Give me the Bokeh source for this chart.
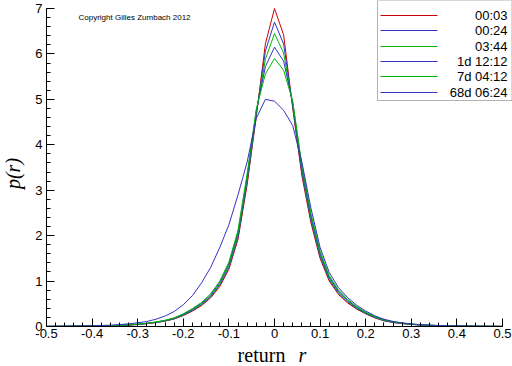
from math import pi
import numpy as np
from bokeh.plotting import figure
from bokeh.models import Range1d, FixedTicker, Label, BoxAnnotation
from bokeh.embed import file_html
from bokeh.resources import INLINE

# ---------------- data ----------------
r = [-0.50, -0.48, -0.46, -0.44, -0.42, -0.40, -0.38, -0.36, -0.34, -0.32,
     -0.30, -0.28, -0.26, -0.24, -0.22, -0.20, -0.18, -0.16, -0.14, -0.12,
     -0.10, -0.08, -0.06, -0.04, -0.02, 0.00, 0.02, 0.04, 0.06, 0.08,
     0.10, 0.12, 0.14, 0.16, 0.18, 0.20, 0.22, 0.24, 0.26, 0.28,
     0.30, 0.32, 0.34, 0.36, 0.38, 0.40, 0.42, 0.44, 0.46, 0.48, 0.50]

p_00_03 = [0.002, 0.003, 0.004, 0.005, 0.007, 0.009, 0.012, 0.016, 0.022, 0.031,
           0.044, 0.062, 0.086, 0.118, 0.165, 0.24, 0.34, 0.46, 0.63, 0.88,
           1.26, 1.92, 3.12, 4.62, 6.22, 7.00, 6.42, 4.80, 3.32, 2.28,
           1.50, 1.00, 0.71, 0.52, 0.385, 0.278, 0.19, 0.125, 0.088, 0.063,
           0.045, 0.032, 0.023, 0.017, 0.012, 0.009, 0.007, 0.005, 0.004, 0.003, 0.002]

p_00_24 = [0.002, 0.003, 0.004, 0.005, 0.007, 0.010, 0.013, 0.017, 0.023, 0.032,
           0.046, 0.064, 0.089, 0.122, 0.171, 0.25, 0.35, 0.475, 0.65, 0.91,
           1.30, 1.97, 3.18, 4.66, 6.06, 6.70, 6.22, 4.84, 3.38, 2.33,
           1.54, 1.03, 0.735, 0.54, 0.395, 0.285, 0.196, 0.13, 0.092, 0.066,
           0.047, 0.034, 0.025, 0.018, 0.013, 0.009, 0.007, 0.005, 0.004, 0.003, 0.002]

p_03_44 = [0.002, 0.003, 0.004, 0.006, 0.008, 0.010, 0.014, 0.018, 0.025, 0.034,
           0.048, 0.066, 0.092, 0.127, 0.177, 0.26, 0.365, 0.49, 0.67, 0.94,
           1.34, 2.02, 3.24, 4.70, 5.88, 6.45, 6.02, 4.88, 3.44, 2.38,
           1.58, 1.06, 0.76, 0.56, 0.41, 0.295, 0.203, 0.136, 0.096, 0.069,
           0.049, 0.035, 0.026, 0.019, 0.013, 0.010, 0.007, 0.005, 0.004, 0.003, 0.002]

p_1d_12_12 = [0.002, 0.003, 0.005, 0.006, 0.008, 0.011, 0.015, 0.019, 0.026, 0.036,
              0.050, 0.069, 0.096, 0.132, 0.184, 0.27, 0.38, 0.51, 0.69, 0.97,
              1.38, 2.07, 3.30, 4.74, 5.72, 6.15, 5.84, 4.92, 3.50, 2.43,
              1.62, 1.09, 0.785, 0.58, 0.425, 0.305, 0.21, 0.142, 0.10, 0.072,
              0.051, 0.037, 0.027, 0.020, 0.014, 0.010, 0.008, 0.006, 0.004, 0.003, 0.002]

p_7d_04_12 = [0.003, 0.004, 0.005, 0.007, 0.009, 0.012, 0.016, 0.021, 0.028, 0.038,
              0.053, 0.073, 0.10, 0.138, 0.19, 0.28, 0.395, 0.53, 0.72, 1.00,
              1.42, 2.12, 3.36, 4.78, 5.56, 5.90, 5.64, 4.96, 3.56, 2.48,
              1.66, 1.12, 0.81, 0.60, 0.44, 0.315, 0.218, 0.148, 0.104, 0.075,
              0.053, 0.039, 0.028, 0.021, 0.015, 0.011, 0.008, 0.006, 0.004, 0.003, 0.002]

p_68d_06_24 = [0.004, 0.005, 0.007, 0.009, 0.012, 0.016, 0.022, 0.030, 0.042, 0.058,
               0.08, 0.11, 0.16, 0.23, 0.33, 0.48, 0.68, 0.96, 1.30, 1.74,
               2.24, 2.90, 3.62, 4.58, 5.00, 4.96, 4.76, 4.42, 3.62, 2.60,
               1.74, 1.19, 0.86, 0.64, 0.47, 0.34, 0.235, 0.16, 0.112, 0.08,
               0.057, 0.041, 0.030, 0.022, 0.016, 0.012, 0.009, 0.007, 0.005, 0.004, 0.003]

series = [p_00_03, p_00_24, p_03_44, p_1d_12_12, p_7d_04_12, p_68d_06_24]
labels = ["00:03", "00:24", "03:44", "1d 12:12", "7d 04:12", "68d 06:24"]
colors = ["#cc0000", "#3434c4", "#00b800", "#3434c4", "#00b800", "#3434c4"]

x_ticks = [-0.5, -0.4, -0.3, -0.2, -0.1, 0.0, 0.1, 0.2, 0.3, 0.4, 0.5]
x_tick_labels = ["-0.5", "-0.4", "-0.3", "-0.2", "-0.1", "0", "0.1", "0.2", "0.3", "0.4", "0.5"]
y_ticks = [0, 1, 2, 3, 4, 5, 6, 7]

# ---------------- layout (frame = whole canvas, axes at fixed locations) ----------------
W, H = 512, 366
AX_LEFT, AX_BOTTOM = 46, 326          # pixel position of r=-0.5 and p=0
PX_X = 456.0                          # pixels per unit of r
PX_Y = 318.0 / 7.0                    # pixels per unit of p
X0 = -0.5 - AX_LEFT / PX_X
X1 = -0.5 + (W - AX_LEFT) / PX_X
Y1 = AX_BOTTOM / PX_Y
Y0 = -(H - AX_BOTTOM) / PX_Y


def fx(px):
    return X0 + px / PX_X


def fy(py):
    return Y1 - py / PX_Y


p = figure(width=W, height=H, output_backend="svg", toolbar_location=None,
           x_range=Range1d(X0, X1), y_range=Range1d(Y0, Y1),
           min_border=0)
p.outline_line_color = None
p.background_fill_color = "white"
p.border_fill_color = "white"
p.xgrid.visible = False
p.ygrid.visible = False

for vals, c in zip(series, colors):
    p.line(r, vals, line_color=c, line_width=1)

minor_x = [round(v, 2) for v in np.arange(-0.5, 0.5001, 0.02)]
minor_y = [round(v, 1) for v in np.arange(0, 7.001, 0.2)]
p.xaxis.ticker = FixedTicker(ticks=x_ticks, minor_ticks=minor_x)
p.yaxis.ticker = FixedTicker(ticks=y_ticks, minor_ticks=minor_y)
p.xaxis.major_label_overrides = {t: s for t, s in zip(x_ticks, x_tick_labels)}
p.xaxis.bounds = (-0.5, 0.5)
p.yaxis.bounds = (0, 7)
p.xaxis.fixed_location = 0
p.yaxis.fixed_location = -0.5

for ax in (p.xaxis[0], p.yaxis[0]):
    ax.axis_line_color = "black"
    ax.major_tick_line_color = "black"
    ax.minor_tick_line_color = "black"
    ax.major_tick_in = 8
    ax.major_tick_out = 0
    ax.minor_tick_in = 4
    ax.minor_tick_out = 0
    ax.major_label_text_font = "Liberation Sans"
    ax.major_label_text_font_size = "13px"
    ax.major_label_text_color = "black"
p.xaxis.major_label_standoff = 2
p.yaxis.major_label_standoff = 4

p.add_layout(Label(x=fx(12), y=fy(173), text="p(r)", angle=pi / 2,
                   text_align="center", text_baseline="middle",
                   text_font="Liberation Serif", text_font_style="italic",
                   text_font_size="20px", text_color="black"))
p.add_layout(Label(x=fx(261), y=fy(354), text="return",
                   text_align="center", text_baseline="alphabetic",
                   text_font="Liberation Serif", text_font_size="20px", text_color="black"))
p.add_layout(Label(x=fx(302), y=fy(354), text="r",
                   text_align="center", text_baseline="alphabetic",
                   text_font="Liberation Serif", text_font_style="italic",
                   text_font_size="20px", text_color="black"))
p.add_layout(Label(x=fx(78), y=fy(16.5), text="Copyright Gilles Zumbach 2012",
                   text_align="left", text_baseline="middle",
                   text_font="Liberation Sans", text_font_size="8px", text_color="black"))

# legend (manual, right-aligned labels)
p.add_layout(BoxAnnotation(left=fx(377), right=fx(511.5), top=Y1, bottom=fy(100),
                           fill_color=None, line_color="black", line_width=1))
rows = [15, 30, 46, 61, 76, 92]
for lab, c, ry in zip(labels, colors, rows):
    p.line([fx(380), fx(437)], [fy(ry), fy(ry)], line_color=c, line_width=1)
    p.add_layout(Label(x=fx(507), y=fy(ry), text=lab, text_align="right",
                       text_baseline="middle", text_font="Liberation Sans",
                       text_font_size="13px", text_color="black"))

open("out.html", "w").write(file_html(p, INLINE))
